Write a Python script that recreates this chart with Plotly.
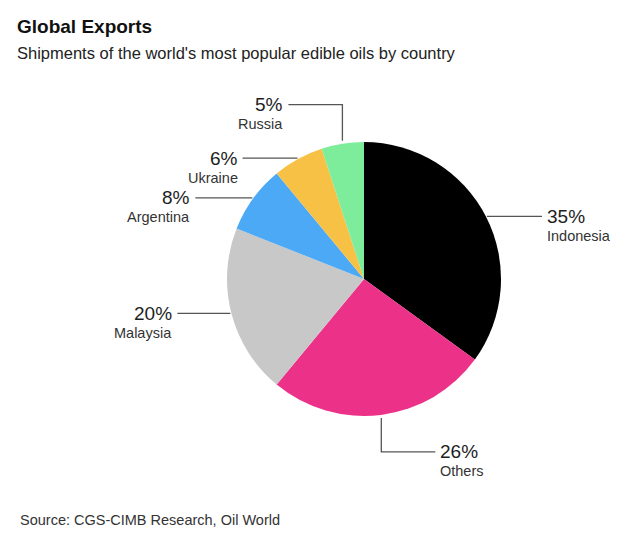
import math
import plotly.graph_objects as go

# ---- data ----
countries = ["Indonesia", "Others", "Malaysia", "Argentina", "Ukraine", "Russia"]
shares = [35, 26, 20, 8, 6, 5]
colors = ["#000000", "#ec3189", "#c8c8c8", "#4ba9f6", "#f7c146", "#7ded9b"]

title = "Global Exports"
subtitle = "Shipments of the world's most popular edible oils by country"
source = "Source: CGS-CIMB Research, Oil World"

# ---- layout constants (pixels) ----
W, H = 630, 543
CX, CY, R = 364, 279, 137
# leader style per label: (vertical length, horizontal length)
leader = {
    "Indonesia": (0, 55),
    "Others": (34, 54),
    "Malaysia": (0, 53),
    "Argentina": (0, 57),
    "Ukraine": (0, 55),
    "Russia": (-36, 54),
}
FONT = "Liberation Sans, Arial, sans-serif"

fig = go.Figure()
fig.add_trace(go.Pie(
    labels=countries, values=shares, sort=False, direction="clockwise",
    rotation=0, marker=dict(colors=colors, line=dict(width=0)),
    textinfo="none", hoverinfo="label+percent", showlegend=False,
    domain=dict(x=[(CX - R) / W, (CX + R) / W], y=[1 - (CY + R) / H, 1 - (CY - R) / H]),
))

annotations = []
total = sum(shares)
cum = 0
for name, v in zip(countries, shares):
    mid = (cum + v / 2) / total * 2 * math.pi
    cum += v
    sx = CX + (R + 1) * math.sin(mid)
    sy = CY - (R + 1) * math.cos(mid)
    vlen, hlen = leader[name]
    side = 1 if math.sin(mid) > 0.05 or (vlen > 0) else -1
    if vlen != 0:
        sy = CY - (R + 3) * math.cos(mid)
        ey = sy + vlen
        path_x = [sx, sx, sx + side * hlen]
        path_y = [sy, ey, ey]
    else:
        ey = sy
        path_x = [sx, sx + side * hlen]
        path_y = [sy, sy]
    ex = path_x[-1]
    fig.add_trace(go.Scatter(
        x=path_x, y=path_y, mode="lines", line=dict(color="#555555", width=1.3),
        hoverinfo="skip", showlegend=False, xaxis="x", yaxis="y"))
    anchor = "left" if side > 0 else "right"
    tx = ex + side * 3
    annotations.append(dict(x=tx, y=ey, xref="x", yref="y", text=f"{v}%",
                            showarrow=False, xanchor=anchor, yanchor="middle",
                            font=dict(family=FONT, size=19, color="#1e1e1e")))
    annotations.append(dict(x=tx, y=ey + 19.5, xref="x", yref="y", text=name,
                            showarrow=False, xanchor=anchor, yanchor="middle",
                            font=dict(family=FONT, size=14.5, color="#333333")))

annotations += [
    dict(x=15, y=26, xref="x", yref="y", text=f"<b>{title}</b>", showarrow=False,
         xanchor="left", yanchor="middle", font=dict(family=FONT, size=19, color="#111111")),
    dict(x=15, y=53, xref="x", yref="y", text=subtitle, showarrow=False,
         xanchor="left", yanchor="middle", font=dict(family=FONT, size=16.5, color="#222222")),
    dict(x=18, y=520, xref="x", yref="y", text=source, showarrow=False,
         xanchor="left", yanchor="middle", font=dict(family=FONT, size=14.5, color="#333333")),
]

fig.update_layout(
    width=W, height=H, margin=dict(l=0, r=0, t=0, b=0),
    paper_bgcolor="white", plot_bgcolor="rgba(0,0,0,0)",
    xaxis=dict(range=[0, W], visible=False, fixedrange=True, domain=[0, 1]),
    yaxis=dict(range=[H, 0], visible=False, fixedrange=True, domain=[0, 1]),
    annotations=annotations,
)
fig.write_html("out.html")
